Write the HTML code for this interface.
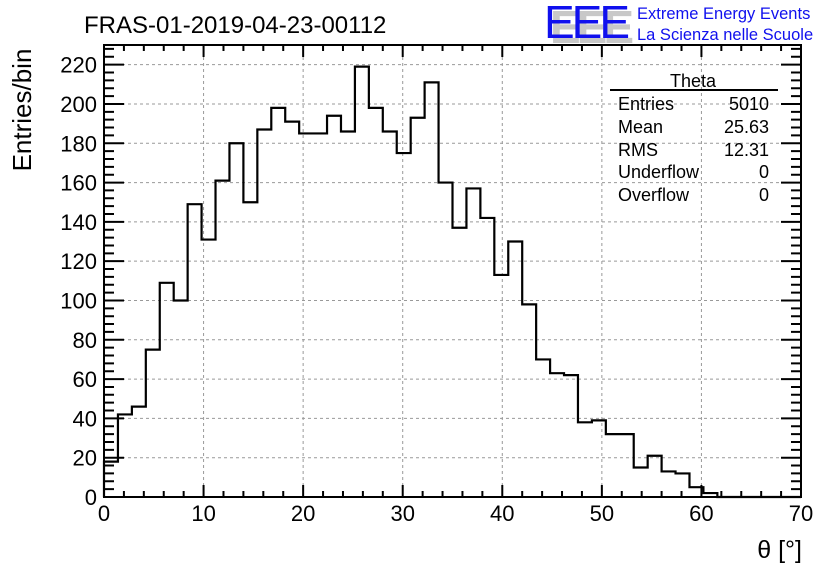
<!DOCTYPE html>
<html><head><meta charset="utf-8"><style>
body{margin:0;background:#fff;}
svg{display:block;font-family:"Liberation Sans",Arial,sans-serif;}
</style></head><body>
<svg id="chart" width="836" height="572" viewBox="0 0 836 572">
<rect width="836" height="572" fill="#fff"/>
<g id="grid"></g>
<g id="ticks"></g>
<g id="labels"></g>
<path id="hist" fill="none" stroke="#000" stroke-width="2.2"/>
<rect x="104" y="45" width="697" height="452" fill="none" stroke="#000" stroke-width="2"/>
<text x="84" y="33" font-size="24">FRAS-01-2019-04-23-00112</text>
<text x="802" y="558" font-size="25" text-anchor="end">θ [°]</text>
<text transform="translate(31,110) rotate(-90)" font-size="26" text-anchor="middle">Entries/bin</text>
<g>
<text x="550" y="43" font-size="46" fill="#c8c8c8" font-weight="bold" textLength="84">EEE</text>
<text x="544" y="38" font-size="46" fill="#1010ee" textLength="86">EEE</text>
<text x="637" y="19" font-size="16.5" fill="#1010ee">Extreme Energy Events</text>
<text x="637" y="40" font-size="16.5" fill="#1010ee">La Scienza nelle Scuole</text>
</g>
<g font-size="18">
<text x="693" y="87" text-anchor="middle">Theta</text>
<line x1="610" y1="90" x2="778" y2="90" stroke="#000" stroke-width="2"/>
<text x="618" y="110">Entries</text><text x="769" y="110" text-anchor="end">5010</text>
<text x="618" y="133">Mean</text><text x="769" y="133" text-anchor="end">25.63</text>
<text x="618" y="156">RMS</text><text x="769" y="156" text-anchor="end">12.31</text>
<text x="618" y="178">Underflow</text><text x="769" y="178" text-anchor="end">0</text>
<text x="618" y="201">Overflow</text><text x="769" y="201" text-anchor="end">0</text>
</g>
</svg>
<script>
const binCounts = [18,42,46,75,109,100,149,131,161,180,150,187,198,191,185,185,194,186,219,198,186,175,193,211,160,137,157,142,113,130,98,70,63,62,38,39,32,32,15,21,13,12,5,2,0,0,0,0,0,0];
const xTicks = [0,10,20,30,40,50,60,70];
const yTicks = [0,20,40,60,80,100,120,140,160,180,200,220];
const xMin=0,xMax=70,yMin=0,yMax=230,binWidth=1.4;
const L=104,R=801,T=45,B=497;
const sx=v=>L+(v-xMin)/(xMax-xMin)*(R-L);
const sy=v=>B-(v-yMin)/(yMax-yMin)*(B-T);
const NS="http://www.w3.org/2000/svg";
function mk(tag,attrs,parent){const e=document.createElementNS(NS,tag);for(const k in attrs)e.setAttribute(k,attrs[k]);parent.appendChild(e);return e;}
const grid=document.getElementById('grid'),ticks=document.getElementById('ticks'),labels=document.getElementById('labels');
xTicks.forEach(v=>{
  if(v>xMin&&v<xMax){const g=mk('line',{x1:sx(v),x2:sx(v),y1:T,y2:B,stroke:'#999','stroke-dasharray':'3,3'},grid);
  
  }
  const t=mk('text',{x:sx(v),y:B+24,'font-size':22,'text-anchor':'middle'},labels);t.textContent=v;
  
  
});
yTicks.forEach(v=>{
  if(v>yMin){const g=mk('line',{x1:L,x2:R,y1:sy(v),y2:sy(v),stroke:'#999','stroke-dasharray':'3,3'},grid);
  
  }
  const t=mk('text',{x:L-7,y:sy(v)+8,'font-size':22,'text-anchor':'end'},labels);t.textContent=v;
  
  
});
let d='';
for(let v=xMin;v<=xMax+1e-9;v+=2){const len=(Math.round(v)%10===0)?12:6;
  d+=`M${sx(v)},${B}v${-len}M${sx(v)},${T}v${len}`;}
for(let v=yMin;v<=yMax+1e-9;v+=4){const len=(Math.round(v)%20===0)?20:10;
  d+=`M${L},${sy(v)}h${len}M${R},${sy(v)}h${-len}`;}
const tk=mk('path',{d:d,stroke:'#000','stroke-width':2,fill:'none'},ticks);


let p=`M${sx(0)},${sy(0)}`;
binCounts.forEach((c,i)=>{p+=`L${sx(i*binWidth)},${sy(c)}L${sx((i+1)*binWidth)},${sy(c)}`;});
document.getElementById('hist').setAttribute('d',p);
</script>
</body></html>
